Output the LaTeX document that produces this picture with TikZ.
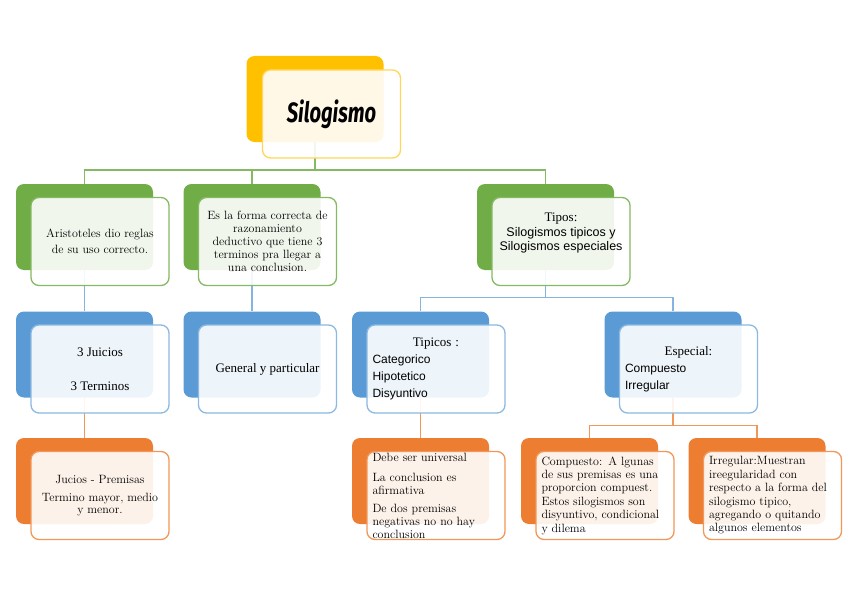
\documentclass[tikz,border=0pt]{standalone}
\usepackage{fontspec}
\usepackage{tikz}
\usetikzlibrary{calc}
\newfontfamily\titlefont{Fira Sans}
\newfontfamily\cambr{Liberation Serif}
\newfontfamily\arialf{Liberation Sans}
\definecolor{gold}{HTML}{FFC000}
\definecolor{leaf}{HTML}{70AD47}
\definecolor{sky}{HTML}{5B9BD5}
\definecolor{rust}{HTML}{ED7D31}

\begin{document}
\begin{tikzpicture}[x=1pt,y=-1pt,
  back/.style={rounded corners=8pt,minimum width=137pt,minimum height=86pt,inner sep=0pt},
  front/.style={draw,line width=1.3pt,rounded corners=8pt,fill=white,fill opacity=0.9,text opacity=1,
    minimum width=138pt,minimum height=88pt,inner sep=0pt,font=\fontsize{12}{13.4}\selectfont},
  leftbox/.style={front,text width=127pt,align=left},
  lnG/.style={leaf!85,line width=1.2pt},
  lnB/.style={sky!75,line width=1.2pt},
  lnO/.style={rust!80,line width=1.2pt}]
  \useasboundingbox (0,0) rectangle (848,599);
  % back boxes
  \node[back,fill=gold] (rootb) at (315,99) {};
  \node[back,fill=leaf] (ab) at (84.5,227) {};
  \node[back,fill=leaf] (bb) at (252,227) {};
  \node[back,fill=leaf] (cb) at (545.5,227) {};
  \node[back,fill=sky] (db) at (84.5,354.5) {};
  \node[back,fill=sky] (eb) at (252,354.5) {};
  \node[back,fill=sky] (fb) at (420.5,354.5) {};
  \node[back,fill=sky] (gb) at (673,354.5) {};
  \node[back,fill=rust] (hb) at (84.5,481) {};
  \node[back,fill=rust] (ib) at (420.5,481) {};
  \node[back,fill=rust] (jb) at (589.5,481) {};
  \node[back,fill=rust] (kb) at (757,481) {};
  % connectors
  \coordinate (busG) at (0,170);
  \coordinate (busB) at (0,297.5);
  \coordinate (busO) at (0,425.5);
  \draw[lnG] (rootb.south) -- (rootb.south |- busG) -| (ab.north);
  \draw[lnG] (rootb.south) -- (rootb.south |- busG) -| (bb.north);
  \draw[lnG] (rootb.south) -- (rootb.south |- busG) -| (cb.north);
  \draw[lnB] (ab.south) -- (db.north);
  \draw[lnB] (bb.south) -- (eb.north);
  \draw[lnB] (cb.south) -- (cb.south |- busB) -| (fb.north);
  \draw[lnB] (cb.south) -- (cb.south |- busB) -| (gb.north);
  \draw[lnO] (db.south) -- (hb.north);
  \draw[lnO] (fb.south) -- (ib.north);
  \draw[lnO] (gb.south) -- (gb.south |- busO) -| (jb.north);
  \draw[lnO] (gb.south) -- (gb.south |- busO) -| (kb.north);
  % front boxes
  \node[front,draw=gold!65] (rootf) at ($(rootb)+(16.5,15)$)
    {\titlefont\bfseries\itshape\fontsize{28}{30}\selectfont\scalebox{0.72}[1]{Silogismo}};
  \node[front,draw=leaf!85,align=center,font=\fontsize{12}{15.7}\selectfont] (af) at ($(ab)+(15.5,14.5)$)
    {Aristoteles dio reglas\\de su uso correcto.};
  \node[front,draw=leaf!85,align=center,font=\fontsize{12}{13}\selectfont] (bf) at ($(bb)+(15.5,14.5)$)
    {Es la forma correcta de\\razonamiento\\deductivo que tiene 3\\terminos pra llegar a\\una conclusion.};
  \node[front,draw=leaf!85,align=center,font=\fontsize{12.5}{14}\selectfont] (cf) at ($(cb)+(15.5,14.5)$)
    {\begin{tabular}{@{}c@{}}{\cambr\fontsize{13}{14}\selectfont Tipos:}\\[1pt]
     {\arialf Silogismos tipicos y}\\{\arialf Silogismos especiales}\\[16pt]\end{tabular}};
  \node[front,draw=sky!70,align=center,font=\cambr\fontsize{13}{13.4}\selectfont] (df) at ($(db)+(15.5,14.5)$)
    {3 Juicios\\[20.5pt]3 Terminos};
  \node[front,draw=sky!70,font=\cambr\fontsize{13}{13.4}\selectfont] (ef) at ($(eb)+(15.5,14.5)$)
    {General y particular};
  \node[leftbox,draw=sky!70,font=\arialf\fontsize{12}{17}\selectfont] (ff) at ($(fb)+(15.5,14.5)$)
    {\makebox[127pt]{\cambr\fontsize{13}{17}\selectfont Tipicos :}\\Categorico\\Hipotetico\\Disyuntivo};
  \node[leftbox,draw=sky!70,font=\arialf\fontsize{12}{17}\selectfont] (gf) at ($(gb)+(15.5,14.5)$)
    {\makebox[127pt]{\cambr\fontsize{13}{17}\selectfont Especial:}\\Compuesto\\Irregular};
  \node[front,draw=rust!80,align=center,font=\fontsize{12}{12}\selectfont] (hf) at ($(hb)+(15.5,14.5)$)
    {Jucios - Premisas\\[6pt]Termino mayor, medio\\y menor.};
  \node[leftbox,draw=rust!80,font=\fontsize{12}{13}\selectfont] (if) at ($(ib)+(15.5,14.5)$)
    {Debe ser universal\\[7pt]La conclusion es\\afirmativa\\[5pt]De dos premisas\\negativas no no hay\\conclusion};
  \node[leftbox,draw=rust!80] (jf) at ($(jb)+(15.5,14.5)$)
    {Compuesto: A lgunas\\de sus premisas es una\\proporcion compuest.\\Estos silogismos son\\disyuntivo, condicional\\y dilema};
  \node[leftbox,draw=rust!80] (kf) at ($(kb)+(15.5,14.5)$)
    {Irregular:Muestran\\ireegularidad con\\respecto a la forma del\\silogismo tipico,\\agregando o quitando\\algunos elementos};
\end{tikzpicture}
\end{document}
